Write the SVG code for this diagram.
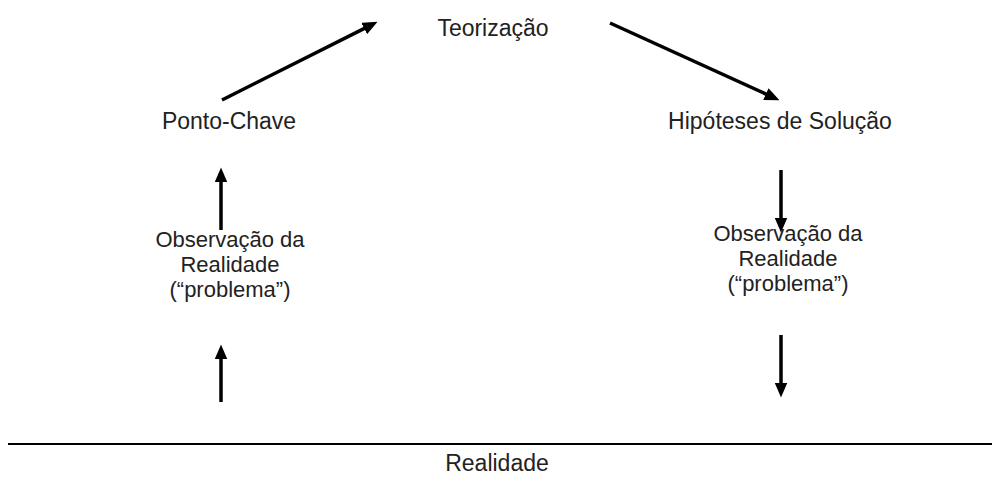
<svg xmlns="http://www.w3.org/2000/svg" width="992" height="489" viewBox="0 0 992 489">
<defs>
<marker id="ah" viewBox="0 0 14 12" refX="6" refY="6" markerWidth="15" markerHeight="13" markerUnits="userSpaceOnUse" orient="auto">
<path d="M0,0 L14,6 L0,12 z" fill="#000"/>
</marker>
<style>
text{font-family:"Liberation Sans",Arial,sans-serif;font-size:23px;fill:#222;text-anchor:middle}
.m{font-size:22px}
.c{stroke:#000;stroke-width:3.5;fill:none;marker-end:url(#ah)}
</style>
</defs>
<rect width="992" height="489" fill="#fff"/>
<g id="teorizacao"><text x="493" y="36">Teorização</text></g>
<g id="ponto-chave"><text x="229" y="129">Ponto-Chave</text></g>
<g id="hipoteses"><text x="780" y="129">Hipóteses de Solução</text></g>
<g id="observacao-esq"><text class="m" x="230" y="247">Observação da<tspan x="230" dy="25">Realidade</tspan><tspan x="230" dy="25">(“problema”)</tspan></text></g>
<g id="observacao-dir"><text class="m" x="788" y="241">Observação da<tspan x="788" dy="25">Realidade</tspan><tspan x="788" dy="25">(“problema”)</tspan></text></g>
<g id="realidade"><line x1="8" y1="444" x2="992" y2="444" stroke="#000" stroke-width="2"/><text x="497" y="471">Realidade</text></g>
<g id="connectors">
<line class="c" x1="222" y1="100" x2="369.9" y2="25.6"/>
<line class="c" x1="610" y1="23" x2="771.7" y2="96.7"/>
<line class="c" x1="221" y1="230" x2="221" y2="176"/>
<line class="c" x1="221" y1="402" x2="221" y2="353"/>
<line class="c" x1="781" y1="170" x2="781" y2="224"/>
<line class="c" x1="781" y1="335" x2="781" y2="389"/>
</g>
</svg>
